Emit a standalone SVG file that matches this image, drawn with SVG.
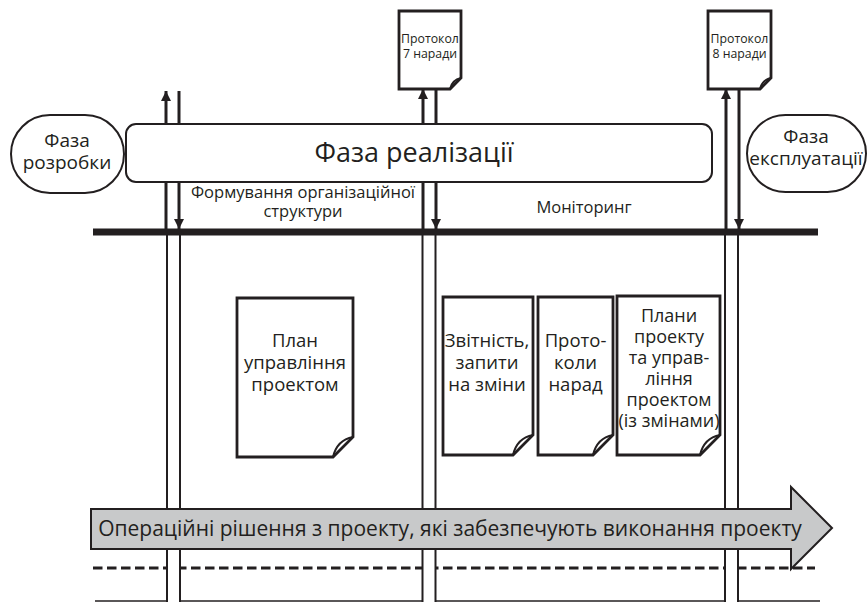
<svg xmlns="http://www.w3.org/2000/svg" width="867" height="602" viewBox="0 0 867 602">
  <defs>
    <style>
      .txt { font-family: "Open Sans", "Noto Sans", "DejaVu Sans", sans-serif; fill: #231f20; text-anchor: middle; }
      .phase { fill: #ffffff; stroke: #231f20; stroke-width: 2; }
      .doc { fill: #ffffff; stroke: #231f20; stroke-width: 2.8; stroke-linejoin: miter; }
      .fold { fill: none; stroke: #231f20; stroke-width: 2; }
      .flow { stroke: #231f20; stroke-width: 3; fill: none; }
      .col { fill: #ffffff; stroke: #231f20; stroke-width: 2; }
    </style>
    <marker id="head" viewBox="0 0 10 10" refX="10" refY="5" markerWidth="11" markerHeight="10" markerUnits="userSpaceOnUse" orient="auto">
      <path d="M0,0 L10,5 L0,10 Z" fill="#231f20"/>
    </marker>
  </defs>

  <!-- base lines under the timeline -->
  <g id="baselines">
    <line x1="93" y1="568" x2="815" y2="568" stroke="#231f20" stroke-width="3" stroke-dasharray="9.5,4.5"/>
    <line x1="95" y1="601" x2="820" y2="601" stroke="#231f20" stroke-width="1.5"/>
  </g>

  <!-- milestone columns below the main line -->
  <g id="columns">
    <rect class="col" x="167" y="234" width="13" height="372"/>
    <rect class="col" x="422.5" y="234" width="13" height="372"/>
    <rect class="col" x="725" y="234" width="13" height="372"/>
  </g>

  <!-- phases -->
  <g id="phase-dev">
    <rect class="phase" x="11" y="115" width="113" height="78" rx="39" ry="39"/>
    <text class="txt" x="67" y="147" font-size="19">Фаза</text>
    <text class="txt" x="67" y="169" font-size="19">розробки</text>
  </g>
  <g id="phase-impl">
    <rect class="phase" x="126" y="124" width="586" height="58" rx="10" ry="10"/>
    <text class="txt" x="414" y="162" font-size="27">Фаза реалізації</text>
  </g>
  <g id="phase-ops">
    <rect class="phase" x="747" y="115" width="119" height="77" rx="38.5" ry="38.5"/>
    <text class="txt" x="806" y="143" font-size="19">Фаза</text>
    <text class="txt" x="806" y="165" font-size="19">експлуатації</text>
  </g>

  <!-- meeting protocols -->
  <g id="protocol-7">
    <path class="doc" d="M399,11 H461 V78 L450,89 H399 Z"/>
    <path class="fold" d="M461,78 Q452,80 450,89"/>
    <text class="txt" x="430" y="43" font-size="12.3">Протокол</text>
    <text class="txt" x="430" y="58" font-size="12.3">7 наради</text>
  </g>
  <g id="protocol-8">
    <path class="doc" d="M708,11 H771 V78 L760,89 H708 Z"/>
    <path class="fold" d="M771,78 Q762,80 760,89"/>
    <text class="txt" x="739.5" y="43" font-size="12.3">Протокол</text>
    <text class="txt" x="739.5" y="58" font-size="12.3">8 наради</text>
  </g>

  <!-- stage labels -->
  <g id="label-org">
    <text class="txt" x="303" y="198" font-size="16.5">Формування організаційної</text>
    <text class="txt" x="303" y="217" font-size="16.5">структури</text>
  </g>
  <g id="label-monitor">
    <text class="txt" x="584" y="213" font-size="16.5">Моніторинг</text>
  </g>

  <!-- documents produced during implementation -->
  <g id="doc-plan">
    <path class="doc" d="M237,298 H353 V437 L333,457 H237 Z"/>
    <path class="fold" d="M353,437 Q337,440 333,457"/>
    <text class="txt" x="295" y="347" font-size="18.5">План</text>
    <text class="txt" x="295" y="369" font-size="18.5">управління</text>
    <text class="txt" x="295" y="391" font-size="18.5">проектом</text>
  </g>
  <g id="doc-reports">
    <path class="doc" d="M443,297 H533 V435 L513,455 H443 Z"/>
    <path class="fold" d="M533,435 Q517,438 513,455"/>
    <text class="txt" x="487" y="347" font-size="18.5">Звітність,</text>
    <text class="txt" x="487" y="369" font-size="18.5">запити</text>
    <text class="txt" x="487" y="391" font-size="18.5">на зміни</text>
  </g>
  <g id="doc-minutes">
    <path class="doc" d="M538,297 H613 V435 L593,455 H538 Z"/>
    <path class="fold" d="M613,435 Q597,438 593,455"/>
    <text class="txt" x="575.5" y="347" font-size="18.5">Прото-</text>
    <text class="txt" x="575.5" y="369" font-size="18.5">коли</text>
    <text class="txt" x="575.5" y="391" font-size="18.5">нарад</text>
  </g>
  <g id="doc-plans-updated">
    <path class="doc" d="M617,296 H720 V435 L700,455 H617 Z"/>
    <path class="fold" d="M720,435 Q704,438 700,455"/>
    <text class="txt" x="669" y="322" font-size="18">Плани</text>
    <text class="txt" x="669" y="343" font-size="18">проекту</text>
    <text class="txt" x="669" y="364" font-size="18">та управ-</text>
    <text class="txt" x="669" y="385" font-size="18">ління</text>
    <text class="txt" x="669" y="406" font-size="18">проектом</text>
    <text class="txt" x="669" y="427" font-size="18">(із змінами)</text>
  </g>

  <!-- operational decisions timeline -->
  <g id="timeline">
    <path d="M91,509 H791 V487 L832,528 L791,569 V549 H91 Z" fill="#c8c9ca" stroke="#231f20" stroke-width="2" stroke-linejoin="miter"/>
    <text class="txt" x="450" y="536" font-size="21">Операційні рішення з проекту, які забезпечують виконання проекту</text>
  </g>

  <!-- connectors -->
  <g id="connectors">
    <!-- milestone 1 -->
    <line class="flow" x1="166" y1="124" x2="166" y2="91" marker-end="url(#head)"/>
    <line class="flow" x1="179" y1="91" x2="179" y2="124"/>
    <line class="flow" x1="166" y1="182" x2="166" y2="229"/>
    <line class="flow" x1="179" y1="182" x2="179" y2="229" marker-end="url(#head)"/>
    <!-- milestone 2 -->
    <line class="flow" x1="423" y1="124" x2="423" y2="89" marker-end="url(#head)"/>
    <line class="flow" x1="436" y1="89" x2="436" y2="124"/>
    <line class="flow" x1="423" y1="182" x2="423" y2="229"/>
    <line class="flow" x1="436" y1="182" x2="436" y2="229" marker-end="url(#head)"/>
    <!-- milestone 3 -->
    <line class="flow" x1="726" y1="229" x2="726" y2="89" marker-end="url(#head)"/>
    <line class="flow" x1="739" y1="89" x2="739" y2="229" marker-end="url(#head)"/>
    <!-- main time line -->
    <line x1="93" y1="232" x2="818" y2="232" stroke="#231f20" stroke-width="7"/>
  </g>
</svg>
